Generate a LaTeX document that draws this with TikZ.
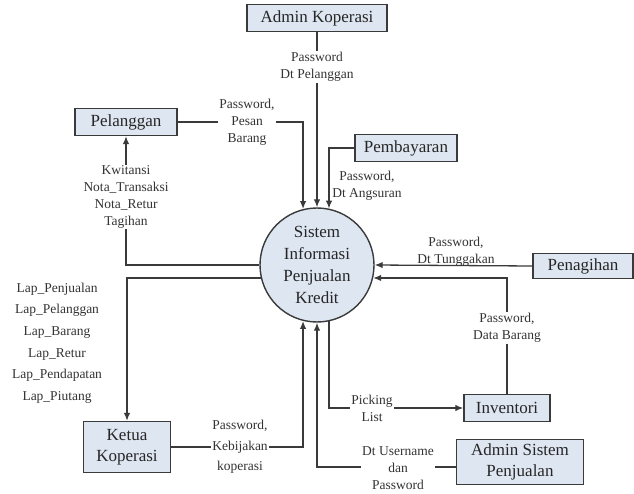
\documentclass[tikz,border=0pt]{standalone}
\usepackage{fontspec}
\setmainfont{Liberation Serif}
\usetikzlibrary{arrows.meta}
\definecolor{boxfill}{HTML}{DEE6F1}
\definecolor{linec}{HTML}{3A3A3A}
\definecolor{txtc}{HTML}{333333}
\begin{document}
\begin{tikzpicture}[x=1pt,y=-1pt,
 ent/.style={draw=linec, line width=1.4pt, fill=boxfill, inner sep=0pt, font=\fontsize{17}{21}\selectfont, align=center, text=black!85},
 proc/.style={circle, draw=linec, line width=1.4pt, fill=boxfill, minimum size=114pt, inner sep=0pt, align=center, font=\fontsize{17}{21.7}\selectfont, text=black!85},
 flow/.style={draw=linec, line width=1.3pt, -{Latex[length=8pt,width=6.5pt]}},
 lbl/.style={font=\fontsize{13.5}{17}\selectfont, align=center, text=txtc, inner sep=1pt},
 gap/.style={lbl, fill=white}]
\useasboundingbox[fill=white] (0,0) rectangle (634,494);

% entities
\node[ent, minimum width=140pt, minimum height=27pt] (ak) at (317,18) {Admin Koperasi};
\node[ent, minimum width=102pt, minimum height=27pt] (pel) at (126,122) {Pelanggan};
\node[ent, minimum width=102pt, minimum height=27pt] (pem) at (406,148) {Pembayaran};
\node[ent, minimum width=100pt, minimum height=25pt] (pen) at (583,266) {Penagihan};
\node[ent, minimum width=86pt, minimum height=27pt] (inv) at (507,408) {Inventori};
\node[ent, minimum width=127pt, minimum height=45pt] (asp) at (520,462) {Admin Sistem\\Penjualan};
\node[ent, minimum width=87pt, minimum height=51pt] (ket) at (127,447) {Ketua\\Koperasi};
\node[proc] (circ) at (317,265) {Sistem\\Informasi\\Penjualan\\Kredit};

% flows
\draw[flow] (ak.south) -- (circ.north);
\draw[flow] (pel.east) -| (circ.104);
\draw[flow] (pem.west) -| (circ.78);
\draw[flow] (circ.west) -| (pel.south);
\draw[flow] (circ.193) -| (ket.north);
\draw[flow] (ket.east) -| (circ.256);
\draw[flow] ([yshift=-5pt]asp.west) -| (circ.south);
\draw[flow] (circ.282) |- (inv.west);
\draw[flow] (inv.north) |- (circ.347);
\draw[flow] (pen.west) -- (circ.east);

% labels
\node[gap] (l1) at (317,67) {Password\\Dt Pelanggan};
\node[gap] (l2) at (247,122) {Password,\\Pesan\\Barang};
\node[lbl] (l3) at (367,186) {Password,\\Dt Angsuran};
\node[gap] (l4) at (126,197) {Kwitansi\\Nota\_Transaksi\\Nota\_Retur\\Tagihan};
\node[lbl, font=\fontsize{13.5}{21.6}\selectfont] (l5) at (57,343) {Lap\_Penjualan\\Lap\_Pelanggan\\Lap\_Barang\\Lap\_Retur\\Lap\_Pendapatan\\Lap\_Piutang};
\node[gap, font=\fontsize{13.5}{20.5}\selectfont] (l6) at (240,447) {Password,\\Kebijakan\\koperasi};
\node[gap] (l7) at (398,468) {Dt Username\\dan\\Password};
\node[gap] (l8) at (372,408) {Picking\\List};
\node[gap] (l9) at (507,328) {Password,\\Data Barang};
\node[lbl] (l10) at (456,252) {Password,\\Dt Tunggakan};
\end{tikzpicture}
\end{document}
